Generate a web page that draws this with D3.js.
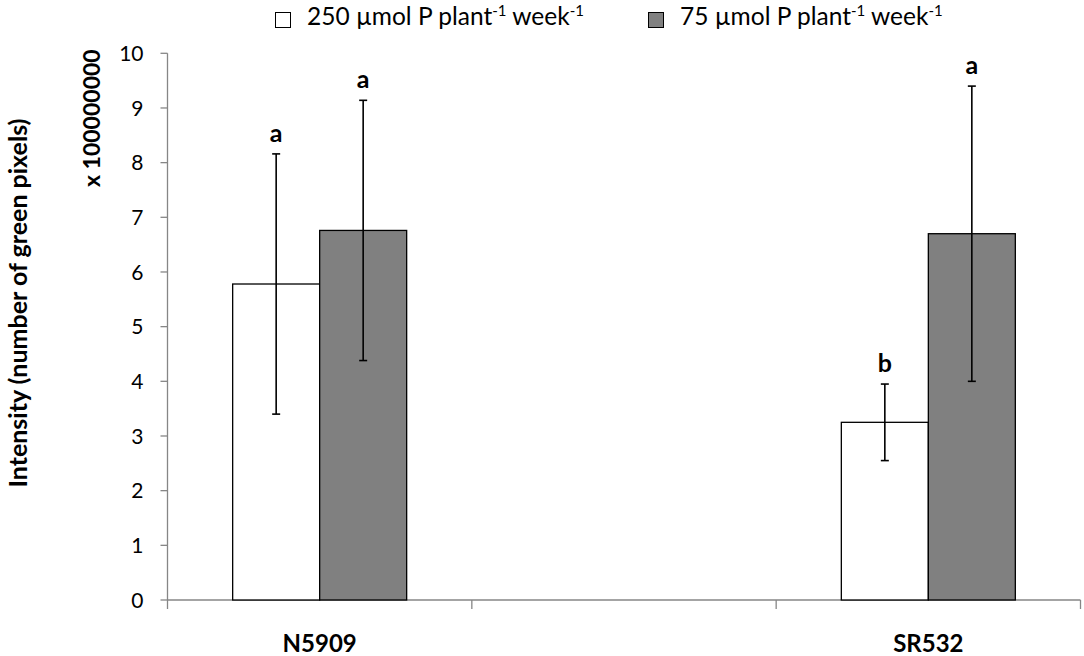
<!DOCTYPE html>
<html><head><meta charset="utf-8">
<script src="https://cdn.jsdelivr.net/npm/d3@7"></script>
<style>body{margin:0;background:#fff}svg{display:block;font-family:Lato,"Open Sans",sans-serif}</style>
</head><body><svg id="c" width="1084" height="656"></svg>
<script>
const categories = ["N5909", "", "SR532"];
const seriesNames = ["250", "75"];
const values250 = [5.78, null, 3.25];
const err250 = [2.38, null, 0.70];
const values75 = [6.76, null, 6.70];
const err75 = [2.38, null, 2.70];
const letters250 = ["a", null, "b"];
const letters75 = ["a", null, "a"];
const yTicks = [0,1,2,3,4,5,6,7,8,9,10];
const colors = {"250": "#ffffff", "75": "#808080"};

const svg = d3.select("#c");
const axisColor = "#868686";
const x = d3.scaleBand().domain(categories.map((c,i)=>i)).range([167.5, 1080.5]).padding(0);
const y = d3.scaleLinear().domain([0,10]).range([600, 53.3]);
const half = 87;

// y axis
const ya = svg.append("g").attr("transform","translate(167.5,0)");
ya.append("line").attr("y1",y(0)).attr("y2",y(10)).attr("stroke",axisColor).attr("stroke-width",1.3);
yTicks.forEach(t=>{
  ya.append("line").attr("x1",-7).attr("x2",0).attr("y1",y(t)).attr("y2",y(t)).attr("stroke",axisColor).attr("stroke-width",1.3);
  ya.append("text").attr("x",-24).attr("y",y(t)).attr("dy","0.36em").attr("text-anchor","end")
    .attr("font-size",21).attr("fill","#000").text(t);
});
// x axis
const xa = svg.append("g");
xa.append("line").attr("x1",167.5).attr("x2",1080.5).attr("y1",y(0)).attr("y2",y(0)).attr("stroke",axisColor).attr("stroke-width",1.3);
const edges = categories.map((c,i)=>x(i)).concat([x(categories.length-1)+x.bandwidth()]);
edges.forEach(e=>{
  xa.append("line").attr("x1",e).attr("x2",e).attr("y1",y(0)).attr("y2",y(0)+9).attr("stroke",axisColor).attr("stroke-width",1.3);
});
categories.forEach((c,i)=>{
  xa.append("text").attr("x",x(i)+x.bandwidth()/2).attr("y",652).attr("text-anchor","middle")
    .attr("font-size",24).attr("font-weight","bold").text(c);
});

const series = [
  {name:"250", vals:values250, err:err250, letters:letters250, off:-1},
  {name:"75", vals:values75, err:err75, letters:letters75, off:0}
];
series.forEach(s=>{
  const g = svg.append("g");
  s.vals.forEach((v,i)=>{
    if(v==null) return;
    const cx = x(i)+x.bandwidth()/2;
    const x0 = cx + s.off*half;
    g.append("rect").attr("x",x0).attr("y",y(v)).attr("width",half).attr("height",y(0)-y(v))
      .attr("fill",colors[s.name]).attr("stroke","#000").attr("stroke-width",1.3);
  });
});
series.forEach(s=>{
  const g = svg.append("g");
  s.vals.forEach((v,i)=>{
    if(v==null) return;
    const cx = x(i)+x.bandwidth()/2 + s.off*half + half/2;
    const lo = v - s.err[i], hi = v + s.err[i];
    g.append("line").attr("x1",cx).attr("x2",cx).attr("y1",y(lo)).attr("y2",y(hi)).attr("stroke","#000").attr("stroke-width",1.6);
    [lo,hi].forEach(e=>g.append("line").attr("x1",cx-4).attr("x2",cx+4).attr("y1",y(e)).attr("y2",y(e)).attr("stroke","#000").attr("stroke-width",1.6));
    if(s.letters[i]) g.append("text").attr("x",cx).attr("y",y(hi)-12).attr("text-anchor","middle")
      .attr("font-size",25).attr("font-weight","bold").text(s.letters[i]);
  });
});

// y titles
svg.append("text").attr("transform","translate(27,303) rotate(-90)").attr("text-anchor","middle")
  .attr("font-size",25).attr("font-weight","bold").text("Intensity (number of green pixels)");
svg.append("text").attr("transform","translate(100,187) rotate(-90)").attr("text-anchor","start")
  .attr("font-size",23).attr("font-weight","bold").text("x 100000000");

// legend
const legend = [
  {name:"250", label:"250 µmol P plant", x:275},
  {name:"75", label:"75 µmol P plant", x:648}
];
legend.forEach(l=>{
  svg.append("rect").attr("x",l.x+0.5).attr("y",12.5).attr("width",15).attr("height",15)
    .attr("fill",colors[l.name]).attr("stroke","#000").attr("stroke-width",1);
  const t = svg.append("text").attr("x",l.x+32).attr("y",25).attr("font-size",24.5);
  t.append("tspan").text(l.label);
  t.append("tspan").attr("dy",-9).attr("font-size",15).text("-1");
  t.append("tspan").attr("dy",9).attr("font-size",24.5).text(" week");
  t.append("tspan").attr("dy",-9).attr("font-size",15).text("-1");
});
</script></body></html>
